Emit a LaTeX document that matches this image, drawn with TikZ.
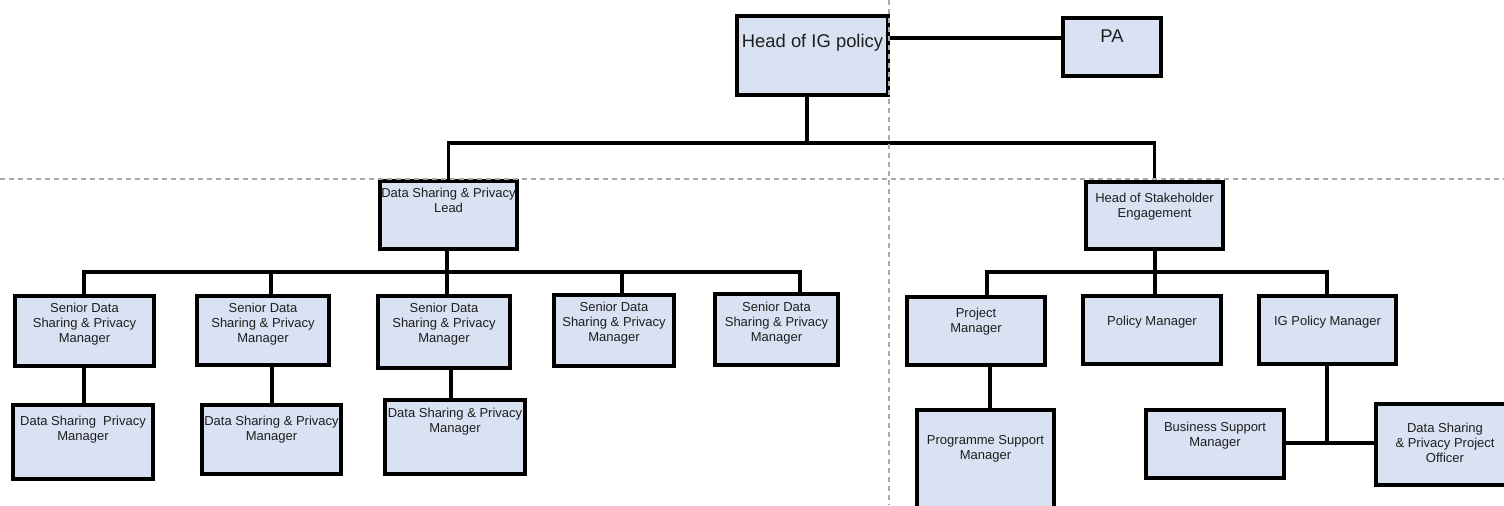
\documentclass[tikz,border=0pt]{standalone}
\usepackage{fontspec}
\setmainfont{Liberation Sans}
\pgfdeclarelayer{wires}
\pgfsetlayers{wires,main}

\definecolor{boxfill}{RGB}{217,226,243}
\definecolor{guide}{RGB}{170,170,170}
\definecolor{ink}{RGB}{30,30,30}

\tikzset{
  box/.style={rectangle, draw=black, line width=2pt, fill=boxfill, inner sep=0pt, outer sep=0pt},
  wire/.style={draw=black, line width=1.8pt},
  txt/.style={font=\fontsize{6.5pt}{7.6pt}\selectfont, text=ink, align=center, inner sep=0pt},
  bigtxt/.style={font=\fontsize{9.2pt}{11pt}\selectfont, text=ink, align=center, inner sep=0pt},
  guideline/.style={draw=guide, line width=0.6pt, dash pattern=on 2.5pt off 2pt},
}

% #1 text style, #2 name, #3-#6 outer corners (x1,y1,x2,y2), #7 text centre y, #8 text
\newcommand\chartbox[8]{%
  \node[box, minimum width={(#5-#3-4)*0.5pt}, minimum height={(#6-#4-4)*0.5pt}]
    (#2) at ({(#3+#5)/2},{(#4+#6)/2}) {};
  \node[#1] (#2-label) at ({(#3+#5)/2},#7) {#8};
}

\begin{document}
\begin{tikzpicture}[x=0.5pt, y=-0.5pt]
\useasboundingbox (0,0) rectangle (1504,505);
\clip (0,0) rectangle (1504,505);

% top level
\chartbox{bigtxt}{head}{735}{14}{890}{97}{43}{Head of IG policy}
\chartbox{bigtxt}{pa}{1061}{16}{1163}{78}{36}{PA}

% second level
\chartbox{txt}{lead}{378}{179}{519}{251}{200}{Data Sharing \& Privacy\\Lead}
\chartbox{txt}{hos}{1084}{180}{1225}{251}{207}{Head of Stakeholder\\Engagement}

% data sharing branch
\chartbox{txt}{s1}{13}{294}{156}{368}{324}{Senior Data\\Sharing \& Privacy\\Manager}
\chartbox{txt}{s2}{195}{294}{331}{367}{324}{Senior Data\\Sharing \& Privacy\\Manager}
\chartbox{txt}{s3}{376}{294}{512}{370}{324}{Senior Data\\Sharing \& Privacy\\Manager}
\chartbox{txt}{s4}{552}{293}{676}{368}{323}{Senior Data\\Sharing \& Privacy\\Manager}
\chartbox{txt}{s5}{713}{292}{840}{367}{323}{Senior Data\\Sharing \& Privacy\\Manager}

\chartbox{txt}{j1}{11}{403}{155}{481}{430}{Data Sharing\ \ Privacy\\Manager}
\chartbox{txt}{j2}{200}{403}{343}{476}{430}{Data Sharing \& Privacy\\Manager}
\chartbox{txt}{j3}{383}{398}{527}{476}{422}{Data Sharing \& Privacy\\Manager}

% stakeholder branch
\chartbox{txt}{pm}{905}{295}{1047}{367}{322}{Project\\Manager}
\chartbox{txt}{pol}{1081}{294}{1223}{366}{322}{Policy Manager}
\chartbox{txt}{igp}{1257}{294}{1398}{366}{322}{IG Policy Manager}

\chartbox{txt}{psm}{915}{408}{1056}{515}{449}{Programme Support\\Manager}
\chartbox{txt}{bsm}{1144}{408}{1286}{480}{436}{Business Support\\Manager}
\chartbox{txt}{dspo}{1374}{402}{1516}{487}{443}{Data Sharing\\\& Privacy Project\\Officer}

% bus and drop positions
\coordinate (pay) at (0,38);
\coordinate (topbus) at (807,143);
\coordinate (d1) at (84,272);
\coordinate (d2) at (271,272);
\coordinate (d3) at (447,272);
\coordinate (d4) at (622,272);
\coordinate (d5) at (800,272);
\coordinate (v1) at (84,0);
\coordinate (v2) at (272,0);
\coordinate (v3) at (451,0);
\coordinate (r1) at (987,272);
\coordinate (rbus) at (1155,272);
\coordinate (r3) at (1327,272);
\coordinate (v4) at (990,0);
\coordinate (jn) at (1327,443);

\begin{pgfonlayer}{wires}
  \draw[wire] (head.east |- pay) -- (pa.west |- pay);
  \draw[wire] (head.south -| topbus) -- (topbus);
  \draw[wire] (lead.north) |- (topbus) -| (hos.north);

  \draw[wire] (lead.south -| d3) -- (d3);
  \draw[wire] (s1.north -| d1) -- (d1) -- (d5) -- (s5.north -| d5);
  \draw[wire] (d2) -- (s2.north -| d2);
  \draw[wire] (d3) -- (s3.north -| d3);
  \draw[wire] (d4) -- (s4.north -| d4);
  \draw[wire] (s1.south -| v1) -- (j1.north -| v1);
  \draw[wire] (s2.south -| v2) -- (j2.north -| v2);
  \draw[wire] (s3.south -| v3) -- (j3.north -| v3);

  \draw[wire] (hos.south -| rbus) -- (rbus);
  \draw[wire] (pm.north -| r1) -- (r1) -- (r3) -- (igp.north -| r3);
  \draw[wire] (rbus) -- (pol.north -| rbus);
  \draw[wire] (pm.south -| v4) -- (psm.north -| v4);
  \draw[wire] (igp.south -| jn) -- (jn);
  \draw[wire] (bsm.east |- jn) -- (dspo.west |- jn);
\end{pgfonlayer}

% page guides
\draw[guideline] (0,179) -- (1504,179);
\draw[guideline] (889,0) -- (889,505);
\end{tikzpicture}
\end{document}
